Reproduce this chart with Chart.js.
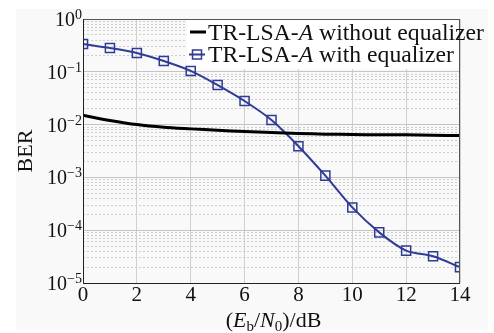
<!DOCTYPE html>
<html>
<head>
<meta charset="utf-8">
<script src="https://cdn.jsdelivr.net/npm/chart.js@4"></script>
<style>
  html, body { margin: 0; padding: 0; background: #fff; }
  #wrap { width: 494px; height: 333px; }
</style>
</head>
<body>
<div id="wrap"><canvas id="ber-chart" width="494" height="333"></canvas></div>
<script>
// --- data ---
const snrDb = [0, 1, 2, 3, 4, 5, 6, 7, 8, 9, 10, 11, 12, 13, 14];
const berWithoutEq = [0.015, 0.012, 0.0100, 0.0089, 0.0083, 0.0078, 0.0074, 0.0071, 0.0068, 0.0066, 0.0065, 0.0064, 0.0064, 0.0063, 0.0062];
const berWithEq = [0.336, 0.282, 0.227, 0.160, 0.104, 0.056, 0.028, 0.0122, 0.0039, 0.00108, 0.00027, 0.000091, 0.000041, 0.000032, 0.000020];

const xTicks = [0, 2, 4, 6, 8, 10, 12, 14];
const yDecades = [1, 1e-1, 1e-2, 1e-3, 1e-4, 1e-5];
const yExponents = ['0', '\u22121', '\u22122', '\u22123', '\u22124', '\u22125'];
const minorSteps = [2, 3, 4, 5, 6, 7, 8, 9];

const legendLabels = [
  ['TR-LSA-', 'A', ' without equalizer'],
  ['TR-LSA-', 'A', ' with equalizer'],
];

const SERIF = '"Liberation Serif", "Times New Roman", serif';
const BLUE = '#2f3b95';

function isDecade(v) {
  return yDecades.some((d) => Math.abs(v / d - 1) < 1e-6);
}

// draw a run of [text, font, dy] pieces starting at x
function drawPieces(ctx, pieces, x, y) {
  pieces.forEach(([txt, font, dy]) => {
    ctx.font = font;
    ctx.fillText(txt, x, y + (dy || 0));
    x += ctx.measureText(txt).width;
  });
  return x;
}
function piecesWidth(ctx, pieces) {
  let w = 0;
  pieces.forEach(([txt, font]) => { ctx.font = font; w += ctx.measureText(txt).width; });
  return w;
}

const decorations = {
  id: 'decorations',
  beforeDraw(chart) {
    const ctx = chart.ctx;
    ctx.save();
    ctx.fillStyle = '#ffffff';
    ctx.fillRect(0, 0, chart.width, chart.height);
    ctx.fillStyle = '#f9f9f9';
    ctx.fillRect(16, 9, 472, 321);
    ctx.restore();
  },
  beforeDatasetsDraw(chart) {
    // legend box hides the grid behind it
    const a = chart.chartArea;
    const ctx = chart.ctx;
    ctx.save();
    ctx.fillStyle = '#ffffff';
    ctx.fillRect(187, a.top + 1, a.right - 188, 49);
    ctx.restore();
  },
  afterDraw(chart) {
    const ctx = chart.ctx;
    const a = chart.chartArea;
    const ys = chart.scales.y;
    ctx.save();

    // frame
    ctx.strokeStyle = '#555';
    ctx.lineWidth = 1;
    ctx.strokeRect(a.left + 0.5, a.top + 0.5, a.right - a.left - 1, a.bottom - a.top);
    ctx.strokeStyle = '#222';
    ctx.beginPath();
    ctx.moveTo(a.left + 0.5, a.top);
    ctx.lineTo(a.left + 0.5, a.bottom + 0.5);
    ctx.lineTo(a.right, a.bottom + 0.5);
    ctx.stroke();

    // y tick labels 10^n
    ctx.fillStyle = '#111';
    ctx.textBaseline = 'alphabetic';
    ctx.textAlign = 'left';
    yDecades.forEach((v, i) => {
      const y = ys.getPixelForValue(v);
      ctx.font = '14px ' + SERIF;
      const supW = ctx.measureText(yExponents[i]).width;
      ctx.font = '20px ' + SERIF;
      const baseW = ctx.measureText('10').width;
      const right = a.left - 1;
      ctx.fillText('10', right - supW - baseW, y + 7);
      ctx.font = '14px ' + SERIF;
      ctx.fillText(yExponents[i], right - supW, y);
    });

    // y title
    ctx.save();
    ctx.translate(25, (a.top + a.bottom) / 2);
    ctx.rotate(-Math.PI / 2);
    ctx.font = '22px ' + SERIF;
    ctx.textAlign = 'center';
    ctx.textBaseline = 'middle';
    ctx.fillText('BER', 0, 1);
    ctx.restore();

    // x title (E_b/N_0)/dB
    const n = '22px ' + SERIF, it = 'italic 22px ' + SERIF, sub = '15px ' + SERIF;
    const xt = [['(', n], ['E', it], ['b', sub, 4], ['/', n], ['N', it], ['0', sub, 4], [')/dB', n]];
    const w = piecesWidth(ctx, xt);
    drawPieces(ctx, xt, (a.left + a.right) / 2 + 2 - w / 2, 327);

    // legend
    const ln = '24px ' + SERIF, li = 'italic 24px ' + SERIF;
    ctx.strokeStyle = '#000';
    ctx.lineWidth = 3;
    ctx.beginPath();
    ctx.moveTo(190, 32);
    ctx.lineTo(206, 32);
    ctx.stroke();
    ctx.strokeStyle = BLUE;
    ctx.lineWidth = 2;
    ctx.beginPath();
    ctx.moveTo(189, 54.5);
    ctx.lineTo(205, 54.5);
    ctx.stroke();
    ctx.lineWidth = 1.5;
    ctx.strokeRect(192.5, 50, 9, 9);
    ctx.fillStyle = '#111';
    // first row runs from x=208 to about x=484 in the source, past the frame
    const firstRow = legendLabels[0];
    const rowW = piecesWidth(ctx, [[firstRow[0], ln], [firstRow[1], li], [firstRow[2], ln]]);
    const sx = 276 / rowW;
    legendLabels.forEach((parts, i) => {
      ctx.save();
      ctx.translate(208, 40 + i * 22);
      ctx.scale(sx, 1);
      drawPieces(ctx, [[parts[0], ln], [parts[1], li], [parts[2], ln]], 0, 0);
      ctx.restore();
    });

    ctx.restore();
  },
};

function initChart() {
  const canvas = document.getElementById('ber-chart');
  new Chart(canvas, {
    type: 'line',
    data: {
      datasets: [
        {
          label: 'TR-LSA-A without equalizer',
          data: snrDb.map((x, i) => ({ x, y: berWithoutEq[i] })),
          borderColor: '#000',
          borderWidth: 3,
          pointRadius: 0,
          tension: 0.3,
          fill: false,
        },
        {
          label: 'TR-LSA-A with equalizer',
          data: snrDb.map((x, i) => ({ x, y: berWithEq[i] })),
          borderColor: BLUE,
          borderWidth: 2,
          pointStyle: 'rect',
          pointRadius: 6.4,
          pointBorderWidth: 1.5,
          pointBorderColor: BLUE,
          pointBackgroundColor: 'rgba(0,0,0,0)',
          tension: 0.3,
          fill: false,
        },
      ],
    },
    options: {
      responsive: false,
      animation: false,
      devicePixelRatio: 1,
      layout: { padding: { top: 19, right: 34, left: 0, bottom: 0 } },
      plugins: { legend: { display: false }, tooltip: { enabled: false } },
      scales: {
        x: {
          type: 'linear',
          min: 0,
          max: 14,
          afterBuildTicks: (scale) => { scale.ticks = xTicks.map((v) => ({ value: v })); },
          afterFit: (scale) => { scale.height = 50; },
          ticks: {
            autoSkip: false,
            maxRotation: 0,
            padding: 0,
            color: '#111',
            font: { family: SERIF, size: 21 },
          },
          grid: { color: '#cfcfcf', lineWidth: 1, drawTicks: false },
          border: { display: false },
        },
        y: {
          type: 'logarithmic',
          min: 1e-5,
          max: 1,
          afterBuildTicks: (scale) => {
            const t = [];
            yDecades.forEach((d) => {
              t.push({ value: d, major: true });
              if (d < 1) minorSteps.forEach((m) => t.push({ value: d * m, major: false }));
            });
            scale.ticks = t.sort((p, q) => p.value - q.value);
          },
          afterFit: (scale) => { scale.width = 83; },
          ticks: { display: false, autoSkip: false },
          grid: {
            drawTicks: false,
            lineWidth: 1,
            color: (c) => (c.tick && isDecade(c.tick.value) ? '#c4c4c4' : '#cdcdcd'),
          },
          border: {
            display: false,
            dash: (c) => (c.tick && !isDecade(c.tick.value) ? [2, 2] : []),
          },
        },
      },
    },
    plugins: [decorations],
  });
}

initChart();
</script>
</body>
</html>
